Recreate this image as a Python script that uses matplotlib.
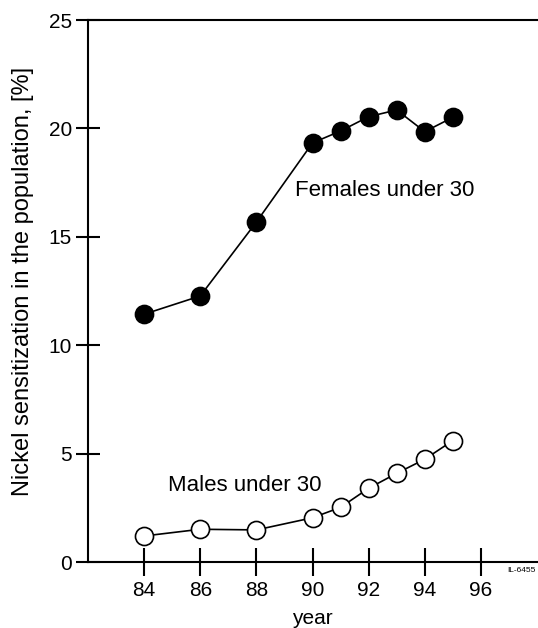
import matplotlib
matplotlib.use("Agg")
import matplotlib.pyplot as plt

years_f = [84, 86, 88, 90, 91, 92, 93, 94, 95]
females = [11.43, 12.27, 15.68, 19.33, 19.88, 20.54, 20.85, 19.85, 20.51]
years_m = [84, 86, 88, 90, 91, 92, 93, 94, 95]
males = [1.2, 1.51, 1.48, 2.04, 2.52, 3.40, 4.09, 4.74, 5.6]
xticks = [84, 86, 88, 90, 92, 94, 96]
yticks = [0, 5, 10, 15, 20, 25]

plt.rcParams['font.family'] = ['Liberation Sans', 'DejaVu Sans']

W, H = 538, 628
fig = plt.figure(figsize=(W / 100, H / 100), dpi=100)
ax = fig.add_axes([88 / W, 1 - 562 / H, (537 - 88) / W, (562 - 20) / H])

ax.plot(years_f, females, color='black', lw=1.2, marker='o', ms=13,
        mfc='black', mec='black', mew=1.2, clip_on=False, zorder=3)
ax.plot(years_m, males, color='black', lw=1.2, marker='o', ms=13,
        mfc='white', mec='black', mew=1.2, clip_on=False, zorder=3)

ax.set_xlim(82, 98.0)
ax.set_ylim(0, 25)
ax.set_xticks(xticks)
ax.set_yticks(yticks)
ax.tick_params(axis='x', direction='inout', length=20, width=1.5,
               labelsize=15, pad=4)
ax.tick_params(axis='y', direction='inout', length=17, width=1.5,
               labelsize=15, pad=3)

for s in ['left', 'top', 'bottom']:
    ax.spines[s].set_linewidth(1.5)
ax.spines['right'].set_visible(False)

ax.text(89.38, 17.13, 'Females under 30', fontsize=16, va='center', ha='left')
ax.text(84.84, 3.55, 'Males under 30', fontsize=16, va='center', ha='left')

ax.set_xlabel('year', fontsize=15, labelpad=6)
ax.set_ylabel('Nickel sensitization in the population, [%]', fontsize=17)
ax.yaxis.set_label_coords(-0.12, 0.517)

fig.text(507 / W, 1 - 570 / H, 'IL-6455', fontsize=6, va='center', ha='left')

fig.savefig('out.png', dpi=100)
